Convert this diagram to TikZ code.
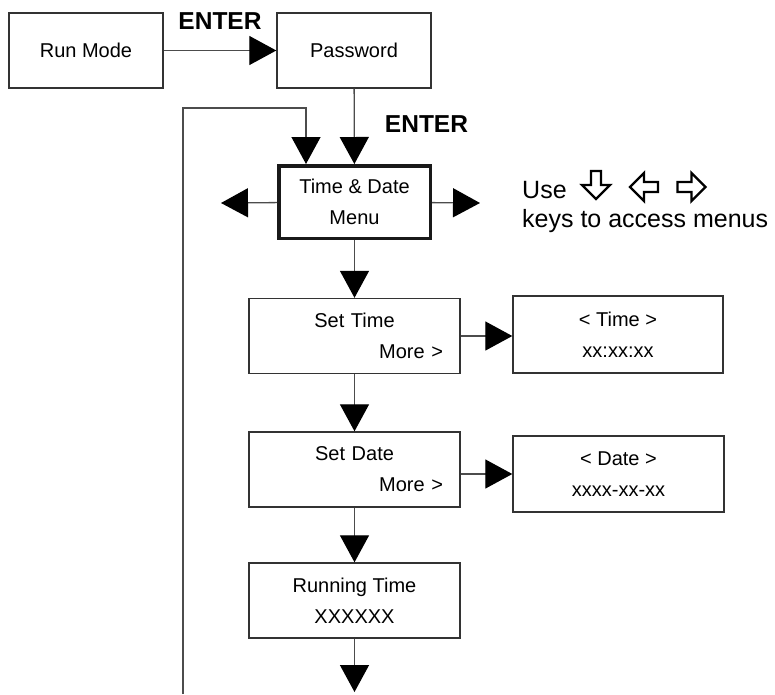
\documentclass[tikz,border=0pt]{standalone}
\usepackage{fontspec}
\setmainfont{Liberation Sans}
\usetikzlibrary{arrows.meta}

\tikzset{
  box/.style={draw=black!80, line width=1.4pt, minimum width=211pt, minimum height=75pt,
    inner sep=0pt, font=\fontsize{20}{31}\selectfont},
  smallbox/.style={box, minimum width=154pt},
  menubox/.style={box, draw=black!90, line width=3.5pt, minimum width=151.5pt, minimum height=72.5pt},
  conn/.style={draw=black!70, line width=1.3pt, -{Triangle[length=27pt,width=29pt,color=black]}},
  keyword/.style={font=\fontsize{24.5}{28}\selectfont\bfseries, inner sep=0pt},
  keyarrow/.pic={\draw[line width=2.3pt] (-14,-5) -- (0,-5) -- (0,-14) -- (14,0) -- (0,14) -- (0,5) -- (-14,5) -- cycle;}
}

\begin{document}
\begin{tikzpicture}[x=1pt,y=-1pt]
  \useasboundingbox (0,0) rectangle (775,694);
  % boites du haut
  \node[smallbox] (run) at (86,50.5) {Run Mode};
  \node[smallbox] (pass) at (354,50.5) {Password};
  \node[keyword] (enter1) at (220,21.5) {ENTER};
  \node[keyword] (enter2) at (426.5,124.5) {ENTER};
  % menu principal
  \node[menubox, align=center] (menu) at (354.5,202) {Time \& Date\\Menu};
  \coordinate (lefttip) at (221,203);
  \coordinate (righttip) at (480,203);
  % aide clavier
  \node[anchor=base west, align=left, inner sep=0pt, font=\fontsize{25}{29}\selectfont] (keys) at (522,227)
    {Use\\keys to access menus};
  \pic[rotate=-90] at (596,185) {keyarrow};
  \pic[rotate=180] at (644,187) {keyarrow};
  \pic at (691.5,187) {keyarrow};
  % sous-menus
  \node[box, text width=177pt, align=center] (settime) at (354.5,336) {Set Time\\\hspace*{\fill}More >};
  \node[box, text width=177pt, align=center] (setdate) at (354.5,469.5) {Set Date\\\hspace*{\fill}More >};
  \node[box, align=center] (running) at (354.5,600.5) {Running Time\\XXXXXX};
  \node[box, minimum width=210pt, minimum height=77pt, align=center] (timeval) at (618,334.5) {< Time >\\xx:xx:xx};
  \node[box, minimum height=76pt, align=center] (dateval) at (618.5,474) {< Date >\\xxxx-xx-xx};
  \coordinate (endtip) at (354.5,692);
  % retour
  \coordinate (loopbot) at (183,694);
  \coordinate (looptop) at (183,108);
  % liaisons
  \draw[conn] (run) -- (pass);
  \draw[conn] (pass) -- (menu);
  \draw[conn] (loopbot) -- (looptop) -| ([xshift=-48.5pt]menu.north);
  \draw[conn] (menu) -- (lefttip);
  \draw[conn] (menu) -- (righttip);
  \draw[conn] (menu) -- (settime);
  \draw[conn] (settime) -- (timeval.west |- settime.east);
  \draw[conn] (settime) -- (setdate);
  \draw[conn] (setdate.east |- dateval.west) -- (dateval.west);
  \draw[conn] (setdate) -- (running);
  \draw[conn] (running) -- (endtip);
\end{tikzpicture}
\end{document}
